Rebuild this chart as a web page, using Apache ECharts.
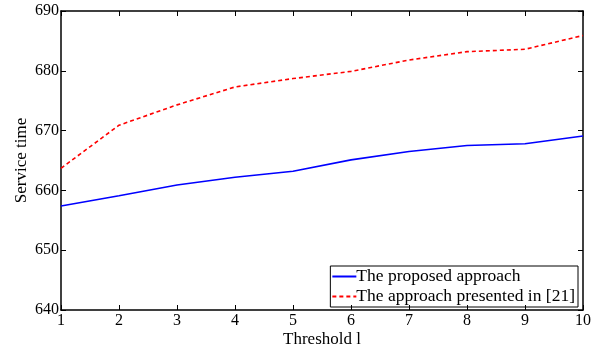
<!DOCTYPE html>
<html lang="en">
<head>
    <meta charset="utf-8"/>
    <script src="https://cdn.jsdelivr.net/npm/echarts@6/dist/echarts.min.js"></script>
</head>
<body style="margin: 0; background: #fff">
<div id="container" style="width: 602px; height: 350px;"></div>
<script type="text/javascript">
    // data
    var thresholds = [1, 2, 3, 4, 5, 6, 7, 8, 9, 10];
    var proposed = [657.4, 659.1, 660.9, 662.2, 663.2, 665.1, 666.5, 667.5, 667.8, 669.1];
    var presented = [663.7, 670.9, 674.3, 677.3, 678.7, 679.9, 681.8, 683.2, 683.6, 685.9];
    var seriesNames = ['The proposed approach', 'The approach presented in [21]'];

    var font = 'Liberation Serif, Times New Roman, serif';
    var myChart = echarts.init(document.getElementById('container'));

    function pairs(ys) {
        return thresholds.map(function (x, i) { return [x, ys[i]]; });
    }

    var tickStyle = {show: true, inside: true, length: 5, lineStyle: {color: '#000', width: 1}};
    var lineStyle = {show: true, lineStyle: {color: '#000', width: 1.5}};

    var option = {
        animation: false,
        grid: {left: 61, top: 11, right: 19, bottom: 40, containLabel: false, outerBoundsMode: 'none'},
        xAxis: [{
            type: 'value', min: 1, max: 10, interval: 1,
            name: 'Threshold l', nameLocation: 'middle', nameGap: 21, nameMoveOverlap: false,
            nameTextStyle: {fontFamily: font, fontSize: 17, color: '#000'},
            axisLine: lineStyle, axisTick: tickStyle, splitLine: {show: false},
            axisLabel: {fontFamily: font, fontSize: 16, color: '#000', margin: 3}
        }, {
            type: 'value', min: 1, max: 10, interval: 1, position: 'top',
            axisLine: lineStyle, axisTick: tickStyle, splitLine: {show: false},
            axisLabel: {show: false}
        }],
        yAxis: [{
            type: 'value', min: 640, max: 690, interval: 10,
            name: 'Service time', nameLocation: 'middle', nameGap: 31, nameMoveOverlap: false,
            nameTextStyle: {fontFamily: font, fontSize: 17, color: '#000'},
            axisLine: lineStyle, axisTick: tickStyle, splitLine: {show: false},
            axisLabel: {fontFamily: font, fontSize: 16, color: '#000', margin: 2}
        }, {
            type: 'value', min: 640, max: 690, interval: 10, position: 'right',
            axisLine: lineStyle, axisTick: tickStyle, splitLine: {show: false},
            axisLabel: {show: false}
        }],
        legend: {
            orient: 'vertical', right: 24, bottom: 43,
            borderColor: '#000', borderWidth: 1, borderRadius: 0,
            padding: [1, 3, 1, 1], itemGap: 1,
            itemWidth: 24, itemHeight: 10,
            itemStyle: {opacity: 0},
            textStyle: {fontFamily: font, fontSize: 17.5, lineHeight: 19, color: '#000', padding: [0, 0, 0, -5]},
            data: seriesNames
        },
        series: [{
            name: seriesNames[0], type: 'line', data: pairs(proposed),
            symbol: 'none', color: '#0000ff',
            lineStyle: {color: '#0000ff', width: 1.6}
        }, {
            name: seriesNames[1], type: 'line', data: pairs(presented),
            symbol: 'none', color: '#ff0000',
            lineStyle: {color: '#ff0000', width: 1.6, type: [4, 3]}
        }]
    };

    myChart.setOption(option);
</script>
</body>
</html>
